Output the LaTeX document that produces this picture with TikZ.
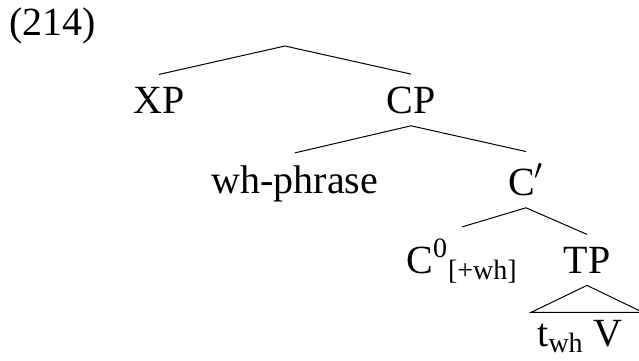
\documentclass[tikz,border=0pt]{standalone}
\usepackage{fontspec}
\setmainfont{Liberation Serif}
\usepackage{tikz}
\tikzstyle{cat} = [anchor=base, inner xsep=1pt, inner ysep=6pt, font=\fontsize{20}{24}\selectfont]
\tikzstyle{branch} = [line width=0.5pt]

\begin{document}
\begin{tikzpicture}[x=0.5pt, y=-0.5pt]
\useasboundingbox (0,0) rectangle (639,360);

%% NODES

\node (ex) [cat, anchor=base west, inner sep=0pt] at (9,35) {(214)};
\coordinate (root) at (285,46);
\node (xp) [cat] at (159,113) {XP};
\node (cp) [cat] at (411,113) {CP};
\node (wh) [cat] at (295,193) {wh-phrase};
\node (cbar) [cat] at (526,195) {C$'$};
\node (c0) [cat] at (462,273) {C\textsuperscript{0}\textsubscript{[+wh]}};
\node (tp) [cat] at (587,273) {TP};
\node (twh) [cat] at (580,346) {t\textsubscript{wh} V};

%% LINES

\draw [branch] (root) -- (xp.north);
\draw [branch] (root) -- (cp.north);
\draw [branch] (cp.south) -- (wh.north);
\draw [branch] (cp.south) -- (cbar.north);
\draw [branch] (cbar.south) -- (c0.north);
\draw [branch] (cbar.south) -- (tp.north);
\draw [branch] (tp.south) -- ++(-56,27) -- ++(112,0) -- cycle;

\end{tikzpicture}
\end{document}
